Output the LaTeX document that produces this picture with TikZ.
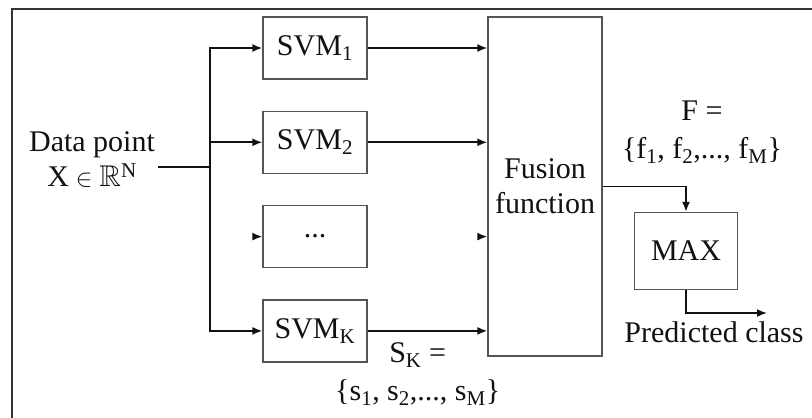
\documentclass[tikz,border=0pt]{standalone}
\usepackage{amsmath,amssymb}
\usepackage{fontspec}
\setmainfont{Liberation Serif}
\usetikzlibrary{positioning,arrows.meta,calc}
\definecolor{ink}{HTML}{111111}
\definecolor{edge}{HTML}{555555}
\definecolor{frame}{HTML}{333333}
\tikzset{
  box/.style={draw=edge, line width=1.3pt, fill=white, inner sep=4pt, text=ink},
  svmbox/.style={box, minimum width=104pt, minimum height=62pt},
  arr/.style={-{Latex[length=10pt,width=8pt]}, line width=1.7pt, color=ink},
  lab/.style={font=\fontsize{30pt}{35pt}\selectfont, text=ink, align=center},
  slab/.style={font=\fontsize{30pt}{38pt}\selectfont, text=ink, align=center},
}

\begin{document}
\begin{tikzpicture}[x=1pt, y=-1pt, font=\fontsize{30pt}{34pt}\selectfont]
    \useasboundingbox (0,0) rectangle (812,418);
    \draw[frame, line width=1.4pt] (12,420) -- (12,9) -- (815,9);
    % SVM bank
    \node[svmbox] (svm1) at (315,48) {SVM\textsubscript{1}};
    \node[svmbox, below=31pt of svm1] (svm2) {SVM\textsubscript{2}};
    \node[svmbox, below=31pt of svm2] (dots) {...};
    \node[svmbox, below=31pt of dots] (svmk) {SVM\textsubscript{K}};
    \node[lab] (data) at (92,160) {Data point\\$\mathrm{X}\in\mathbb{R}^{\mathrm{N}}$};
    \coordinate (bus) at (210,167);
    \draw[arr, -] (data.east |- bus) -- (bus);
    \draw[arr] (bus) |- (svm1);
    \draw[arr] (bus) |- (svm2);
    \draw[arr] (bus) |- (svmk);
    \draw[arr, -] (bus) -- (bus |- svm1);
    \draw[arr] ($(dots.west)+(-8,0)$) -- (dots.west);
    % fusion
    \node[box, minimum width=114pt, minimum height=339pt, lab] (fus) at (545,186.5) {Fusion\\function};
    \draw[arr] (svm1) -- (svm1 -| fus.west);
    \draw[arr] (svm2) -- (svm2 -| fus.west);
    \draw[arr] ($(dots -| fus.west)+(-8,0)$) -- (dots -| fus.west);
    \draw[arr] (svmk) -- (svmk -| fus.west);
    \node[slab, below right=8pt and -36pt of svmk.east] (sk) {S\textsubscript{K} =\\\{s\textsubscript{1}, s\textsubscript{2},..., s\textsubscript{M}\}};
    % max
    \node[box, minimum width=103pt, minimum height=77pt] (max) at (686,251) {MAX};
    \draw[arr] (fus.east) -| (max);
    \node[slab] (f) at (702,132) {F =\\\{f\textsubscript{1}, f\textsubscript{2},..., f\textsubscript{M}\}};
    \coordinate (out) at (767,313);
    \draw[arr] (max) |- (out);
    \node[lab, below=5pt of out, xshift=-53pt] (pred) {Predicted class};
  \end{tikzpicture}
\end{document}
